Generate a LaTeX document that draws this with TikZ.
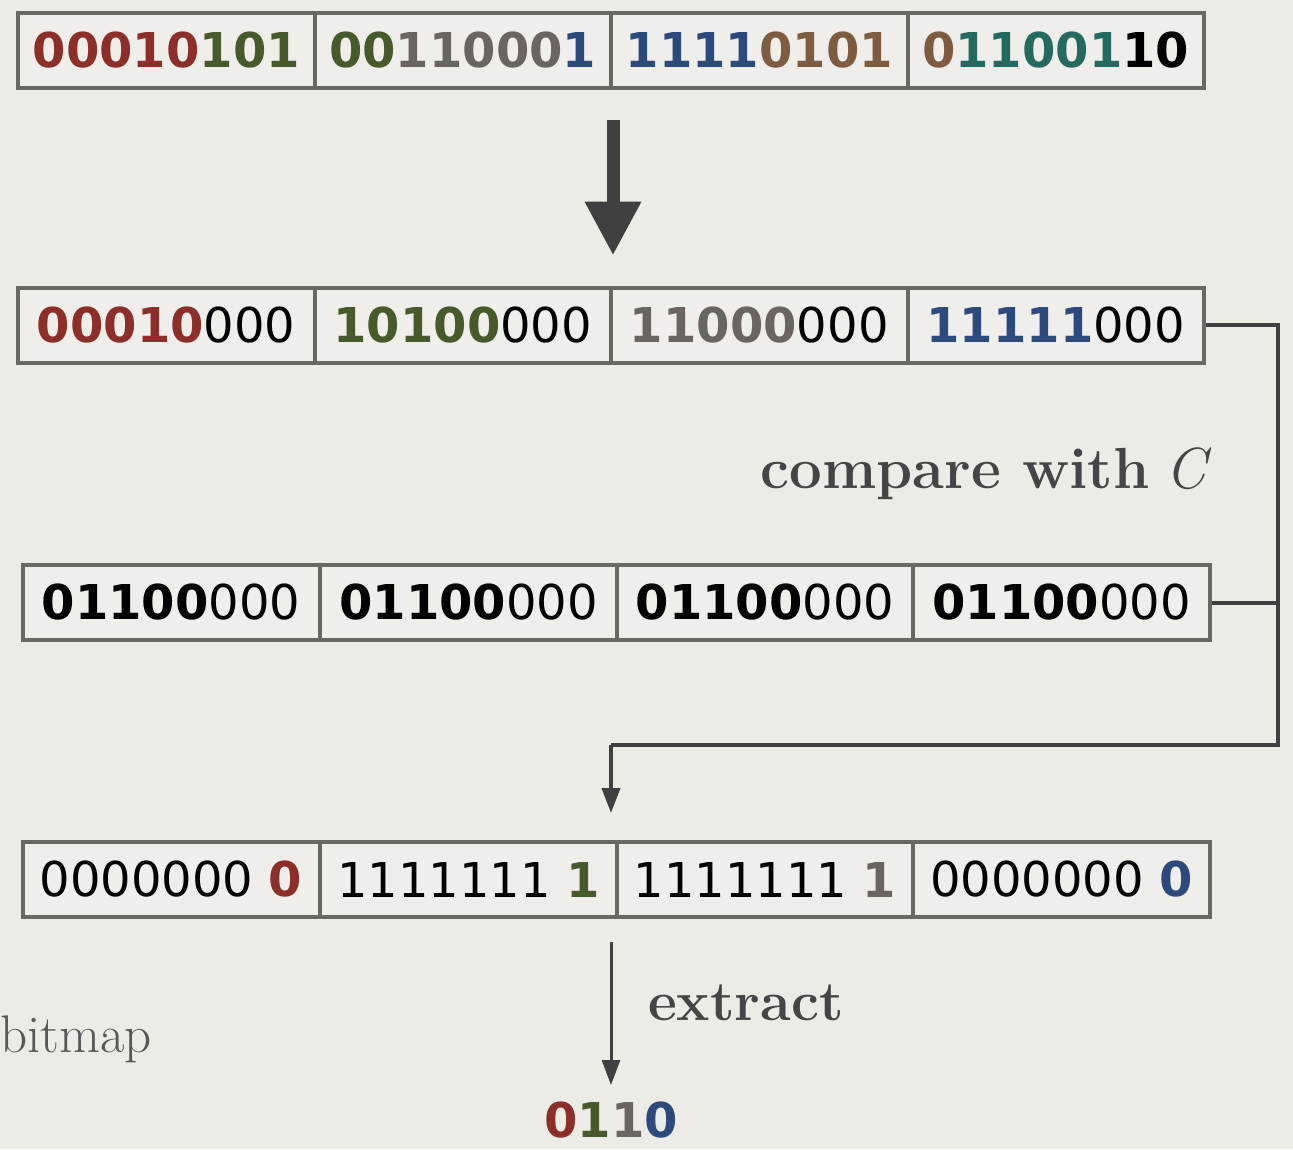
\documentclass[tikz,border=0pt]{standalone}
\usepackage{fontspec}
\newfontfamily\digitfont{DejaVu Sans}
\usetikzlibrary{arrows.meta,calc}
\definecolor{paper}{HTML}{EDEBE6}
\definecolor{cellc}{HTML}{F0EEEA}
\definecolor{boxc}{HTML}{6B6762}
\definecolor{arrc}{HTML}{404040}
\definecolor{labc}{HTML}{454545}
\definecolor{cR}{HTML}{8C2F2A}
\definecolor{cG}{HTML}{475A2B}
\definecolor{cY}{HTML}{6A6560}
\definecolor{cB}{HTML}{2D4A7C}
\definecolor{cN}{HTML}{7E5C40}
\definecolor{cT}{HTML}{256A60}
\newcommand\bd[2]{\textcolor{#1}{\bfseries #2}}
\tikzset{
  cell/.style={draw=boxc, line width=4pt, fill=cellc, minimum height=75pt,
    inner sep=0pt, font=\digitfont\fontsize{48}{48}\selectfont},
  cellA/.style={cell, minimum width=296.5pt},
  cellB/.style={cell, minimum width=297pt},
  bigarrow/.style={draw=arrc, fill=arrc, line width=13pt, -{Triangle[width=53pt,length=54pt]}},
  conn/.style={draw=arrc, line width=4pt},
  smallarrow/.style={draw=arrc, fill=arrc, -{Triangle[width=18pt,length=25pt]}},
  lab/.style={text=labc, font=\fontsize{56}{56}\selectfont\bfseries, inner sep=0pt}
}
\begin{document}
\begin{tikzpicture}[x=1pt,y=-1pt]
\fill[paper] (0,0) rectangle (1293,1149);
\useasboundingbox (0,0) rectangle (1293,1149);
% row 1
\node[cellA] (r1c1) at (166.25,50.5) {\bd{cR}{00010}\bd{cG}{101}};
\node[cellA] (r1c2) at (462.75,50.5) {\bd{cG}{00}\bd{cY}{11000}\bd{cB}{1}};
\node[cellA] (r1c3) at (759.25,50.5) {\bd{cB}{1111}\bd{cN}{0101}};
\node[cellA] (r1c4) at (1055.75,50.5) {\bd{cN}{0}\bd{cT}{11001}\bd{black}{10}};
% row 2
\node[cellA] (r2c1) at (166.25,325) {\bd{cR}{00010}000};
\node[cellA] (r2c2) at (462.75,325) {\bd{cG}{10100}000};
\node[cellA] (r2c3) at (759.25,325) {\bd{cY}{11000}000};
\node[cellA] (r2c4) at (1055.75,325) {\bd{cB}{11111}000};
% row 3
\node[cellB] (r3c1) at (171,602.5) {\bd{black}{01100}000};
\node[cellB] (r3c2) at (468.5,602.5) {\bd{black}{01100}000};
\node[cellB] (r3c3) at (765,602.5) {\bd{black}{01100}000};
\node[cellB] (r3c4) at (1061.5,602.5) {\bd{black}{01100}000};
% row 4
\node[cellB] (r4c1) at (171,879.5) {0000000 \bd{cR}{0}};
\node[cellB] (r4c2) at (468.5,879.5) {1111111 \bd{cG}{1}};
\node[cellB] (r4c3) at (765,879.5) {1111111 \bd{cY}{1}};
\node[cellB] (r4c4) at (1061.5,879.5) {0000000 \bd{cB}{0}};
% result
\node[inner sep=0pt, anchor=north, font=\digitfont\fontsize{48}{48}\selectfont\bfseries] (res) at (611,1102)
  {\textcolor{cR}{0}\textcolor{cG}{1}\textcolor{cY}{1}\textcolor{cB}{0}};
% labels
\node[lab, anchor=base east, font=\fontsize{58}{58}\selectfont\bfseries] (cmp) at (1212,488) {compare with\hspace{-0.1em} \textit{\mdseries C}};
\node[lab, anchor=base west] (ext) at (648,1020) {extract};
\node[inner sep=0pt, anchor=base west, text=labc!90, font=\fontsize{53}{53}\selectfont] (bmp) at (0,1052) {bitmap};
% coordinates
\coordinate (cRt) at (1278,325);
\coordinate (cBt) at (1278,745);
\coordinate (cLt) at (611,745);
% arrows
\draw[bigarrow, shorten <=30pt, shorten >=30pt] (r1c2.south east) -- (r2c2.north east);
\draw[conn] (r2c4.east) -- (cRt) -- (cBt) -- (cLt);
\draw[conn] (r3c4.east) -- (r3c4.east -| cRt);
\draw[smallarrow, line width=4pt, shorten >=27pt] (cLt) -- (cLt |- r4c2.north);
\draw[smallarrow, line width=3pt, shorten <=23pt, shorten >=17pt] (cLt |- r4c2.south) -- (res.north);
\end{tikzpicture}
\end{document}
